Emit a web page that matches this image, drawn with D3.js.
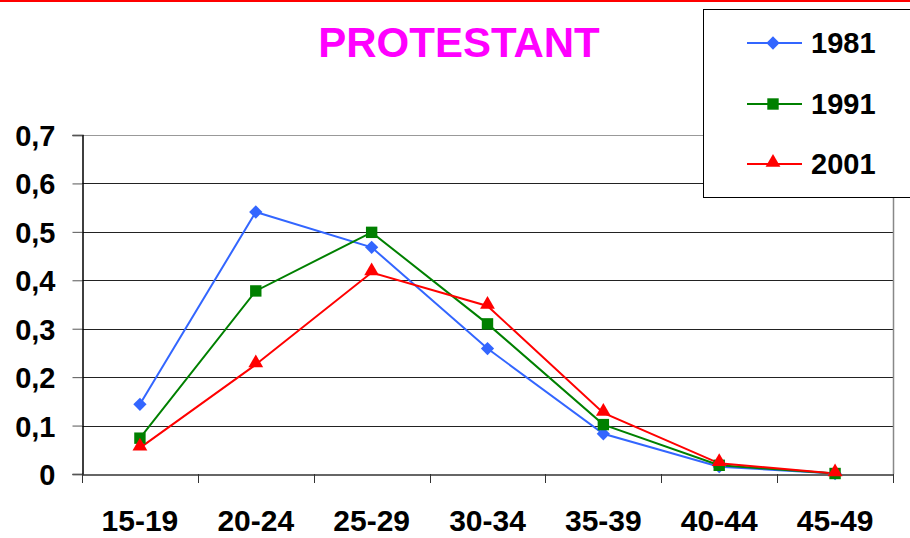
<!DOCTYPE html>
<html>
<head>
<meta charset="utf-8">
<script src="https://cdn.jsdelivr.net/npm/d3@7"></script>
<style>
  html, body { margin: 0; padding: 0; background: #fff; }
  svg { display: block; font-family: "Liberation Sans", Arial, sans-serif; }
</style>
</head>
<body>
<svg id="chart" width="910" height="538"></svg>
<script>
const title = "PROTESTANT";
const categories = ["15-19", "20-24", "25-29", "30-34", "35-39", "40-44", "45-49"];
const seriesNames = ["1981", "1991", "2001"];
const values1981 = [0.144, 0.541, 0.468, 0.259, 0.083, 0.015, 0.001];
const values1991 = [0.074, 0.378, 0.499, 0.310, 0.102, 0.018, 0.001];
const values2001 = [0.054, 0.226, 0.416, 0.347, 0.126, 0.022, 0.001];
const yTicks = [0, 0.1, 0.2, 0.3, 0.4, 0.5, 0.6, 0.7];
const colors = ["#3366FF", "#008000", "#FF0000"];

// marker definitions: [symbol, size, rotation, y-offset]
const markerDefs = [
  [d3.symbolSquare, 88, 45, 0],
  [d3.symbolSquare, 130, 0, 0],
  [d3.symbolTriangle, 95, 0, -1.5]
];

const series = [values1981, values1991, values2001].map((v, i) => ({
  name: seriesNames[i], values: v, color: colors[i], marker: markerDefs[i]
}));

const svg = d3.select("#chart");
const m = { left: 82, right: 893, top: 135, bottom: 474 };

// red line at top
svg.append("line").attr("x1", 0).attr("x2", 910).attr("y1", 1).attr("y2", 1)
  .attr("stroke", "#FF0000").attr("stroke-width", 2);

const x = d3.scaleBand().domain(categories).range([m.left, m.right]).padding(0);
const y = d3.scaleLinear().domain([0, 0.7]).range([m.bottom, m.top]);

// gridlines
svg.append("g").selectAll("line").data(yTicks.filter(d => d > 0)).join("line")
  .attr("x1", m.left).attr("x2", m.right)
  .attr("y1", d => Math.round(y(d)) + 0.5).attr("y2", d => Math.round(y(d)) + 0.5)
  .attr("stroke", d => d === 0.7 ? "#999" : "#222").attr("stroke-width", 1);

// right border of plot area
svg.append("line").attr("x1", m.right + 0.5).attr("x2", m.right + 0.5)
  .attr("y1", m.top).attr("y2", m.bottom).attr("stroke", "#888").attr("stroke-width", 1.5);

// y axis
const yAxis = d3.axisLeft(y).tickValues(yTicks).tickSize(10)
  .tickFormat(d => d === 0 ? "0" : d3.format(".1f")(d).replace(".", ","));
const gy = svg.append("g").attr("transform", `translate(${m.left + 0.5},0)`).call(yAxis);
gy.select(".domain").attr("stroke", "#000").attr("stroke-width", 1.5);
gy.selectAll(".tick line").attr("stroke", "#555");
gy.selectAll(".tick text").attr("x", -27).attr("dy", "0.36em")
  .attr("font-size", 29).attr("font-weight", "bold").attr("fill", "#000")
  .attr("font-family", '"Liberation Sans", Arial, sans-serif');

// x axis
const xAxis = d3.axisBottom(x).tickSize(0);
const gx = svg.append("g").attr("transform", `translate(0,${m.bottom + 0.5})`).call(xAxis);
gx.select(".domain").attr("stroke", "#333").attr("stroke-width", 1.5);
gx.selectAll(".tick text").attr("y", 35)
  .attr("font-size", 30).attr("font-weight", "bold").attr("fill", "#000")
  .attr("font-family", '"Liberation Sans", Arial, sans-serif');
// category boundary ticks
const bounds = categories.map(c => x(c)).concat([m.right]);
svg.append("g").selectAll("line").data(bounds).join("line")
  .attr("x1", d => Math.round(d) + 0.5).attr("x2", d => Math.round(d) + 0.5)
  .attr("y1", m.bottom).attr("y2", m.bottom + 9)
  .attr("stroke", "#333").attr("stroke-width", 1);

// lines
const cx = c => x(c) + x.bandwidth() / 2;
const line = d3.line().x((d, i) => cx(categories[i])).y(d => y(d));
const gl = svg.append("g");
series.forEach(s => {
  gl.append("path").datum(s.values).attr("d", line)
    .attr("fill", "none").attr("stroke", s.color).attr("stroke-width", 2);
});
series.forEach(s => {
  const [sym, size, rot, dy] = s.marker;
  gl.append("g").selectAll("path").data(s.values).join("path")
    .attr("d", d3.symbol().type(sym).size(size))
    .attr("transform", (d, i) => `translate(${cx(categories[i])},${y(d) + dy}) rotate(${rot})`)
    .attr("fill", s.color);
});

// title
svg.append("text").attr("x", 459).attr("y", 57).attr("text-anchor", "middle")
  .attr("font-size", 42).attr("font-weight", "bold").attr("fill", "#FF00FF")
  .text(title);

// legend
const lg = svg.append("g");
lg.append("rect").attr("x", 703.5).attr("y", 9.5).attr("width", 230).attr("height", 188)
  .attr("fill", "#fff").attr("stroke", "#000").attr("stroke-width", 1);
const rowsY = [43, 104, 164];
series.forEach((s, i) => {
  const [sym, size, rot, dy] = s.marker;
  lg.append("line").attr("x1", 747).attr("x2", 802).attr("y1", rowsY[i]).attr("y2", rowsY[i])
    .attr("stroke", s.color).attr("stroke-width", 2);
  lg.append("path").attr("d", d3.symbol().type(sym).size(size)())
    .attr("transform", `translate(773,${rowsY[i] + dy}) rotate(${rot})`).attr("fill", s.color);
  lg.append("text").attr("x", 811).attr("y", rowsY[i]).attr("dy", "0.36em")
    .attr("font-size", 29).attr("font-weight", "bold").attr("fill", "#000").text(s.name);
});
</script>
</body>
</html>
